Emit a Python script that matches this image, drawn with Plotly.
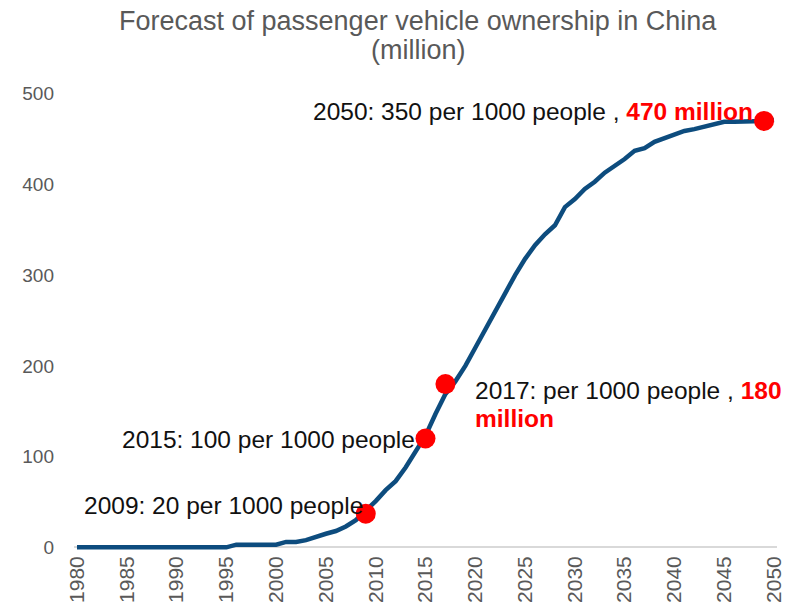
import plotly.graph_objects as go

# Passenger vehicle ownership in China, million vehicles (history + forecast)
years = list(range(1980, 2051))
ownership = [
    0, 0, 0, 0, 0, 0, 0, 0, 0, 0,            # 1980-1989
    0, 0, 0, 0, 0, 0, 3, 3, 3, 3,            # 1990-1999
    3, 6, 6, 8, 12, 15, 18, 23, 30, 40,      # 2000-2009
    51, 63, 73, 88, 105, 123, 147, 169, 183, 200,   # 2010-2019
    220, 240, 262, 280, 300, 318, 333, 345, 355, 375,  # 2020-2029
    384, 395, 403, 413, 420, 428, 437, 440, 447, 451,  # 2030-2039
    456, 459, 461, 464, 467, 469, 469, 469, 470, 470,  # 2040-2049
    471,                                     # 2050
]

# Highlighted milestones
milestone_years = [2009, 2015, 2017, 2049]
milestone_values = [37, 120, 180, 470]

x_ticks = list(range(1980, 2051, 5))
y_ticks = [0, 100, 200, 300, 400, 500]

FONT = "Arial, Liberation Sans, sans-serif"
LINE_BLUE = "#0d4c7e"
RED = "#ff0000"
GREY = "#595959"

fig = go.Figure()

fig.add_trace(go.Scatter(
    x=years, y=ownership, mode="lines",
    line=dict(color=LINE_BLUE, width=4.5),
    hoverinfo="skip", showlegend=False,
))

fig.add_trace(go.Scatter(
    x=milestone_years, y=milestone_values, mode="markers",
    marker=dict(color=RED, size=20),
    cliponaxis=False, showlegend=False,
))

label_font = dict(family=FONT, size=24.5, color="#111111")

annotations = [
    dict(x=2008.9, y=46, xanchor="right", yanchor="middle",
         text="2009: 20 per 1000 people"),
    dict(x=2014.1, y=119, xanchor="right", yanchor="middle",
         text="2015: 100 per 1000 people"),
    dict(x=2019.75, y=173, xanchor="left", yanchor="middle",
         text=f"2017: per 1000 people , <span style='color:{RED}'><b>180</b></span>"),
    dict(x=2019.75, y=142, xanchor="left", yanchor="middle",
         text=f"<span style='color:{RED}'><b>million</b></span>"),
    dict(x=2003.5, y=480, xanchor="left", yanchor="middle",
         text=f"2050: 350 per 1000 people , <span style='color:{RED}'><b>470 million</b></span>"),
]
for a in annotations:
    a.update(xref="x", yref="y", showarrow=False, font=label_font)

# Two-line chart title
title_font = dict(family=FONT, size=27, color=GREY)
annotations += [
    dict(xref="paper", yref="paper", x=0.49, y=1.152, xanchor="center", yanchor="middle",
         text="Forecast of passenger vehicle ownership in China",
         showarrow=False, font=title_font),
    dict(xref="paper", yref="paper", x=0.49, y=1.089, xanchor="center", yanchor="middle",
         text="(million)", showarrow=False, font=title_font),
]

fig.update_layout(
    width=796, height=606,
    margin=dict(l=74, r=19, t=91, b=55),
    paper_bgcolor="white", plot_bgcolor="white",
    font=dict(family=FONT),
    annotations=annotations,
    xaxis=dict(
        range=[1979.7, 2050.3],
        tickvals=x_ticks, ticktext=[str(t) for t in x_ticks],
        tickangle=-90, tickfont=dict(family=FONT, size=21, color=GREY),
        showgrid=False, zeroline=False, showline=False, ticks="",
        automargin=False,
    ),
    yaxis=dict(
        range=[-4, 503],
        tickvals=y_ticks, tickfont=dict(family=FONT, size=19, color=GREY),
        showgrid=False, ticks="", showline=False,
        zeroline=True, zerolinecolor="#d9d9d9", zerolinewidth=1.5,
        ticklabelstandoff=19, automargin=False,
    ),
)

fig.write_html("out.html")
